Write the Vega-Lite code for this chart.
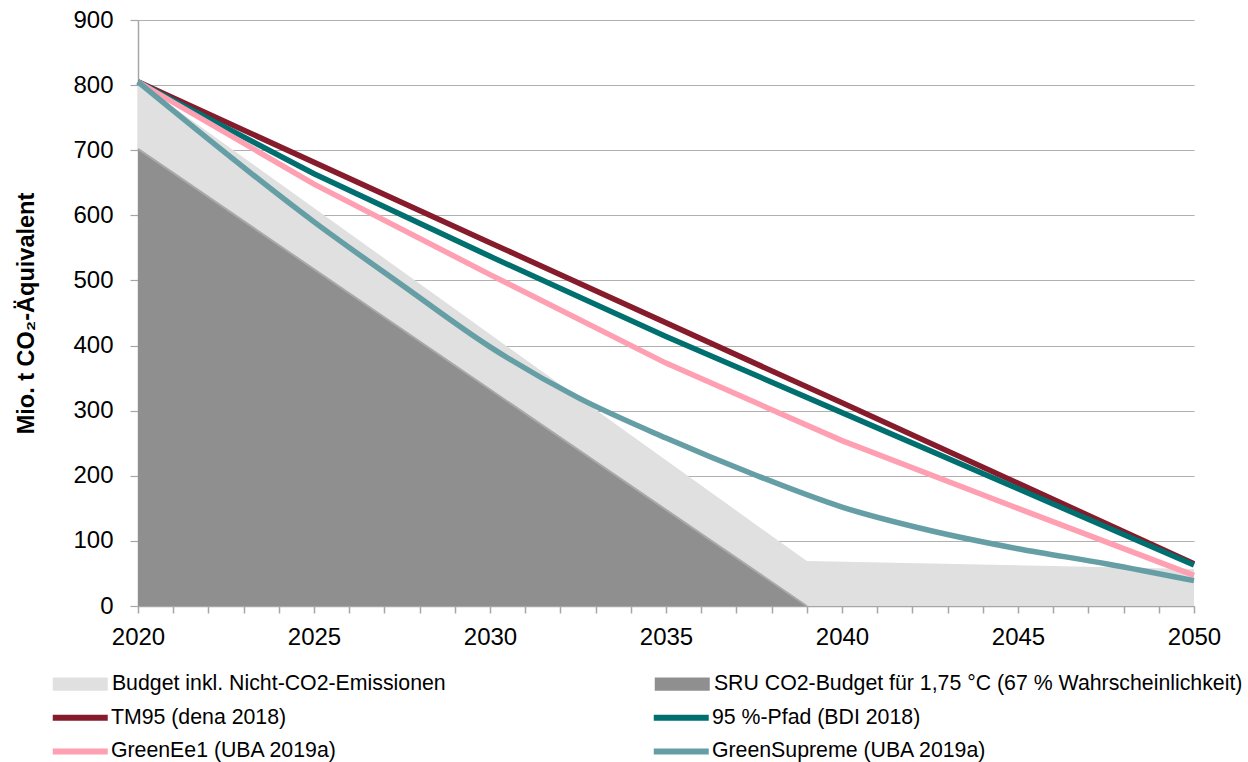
{
  "$schema": "https://vega.github.io/schema/vega-lite/v6.json",
  "width": 1056,
  "height": 586,
  "autosize": {"type": "none"},
  "padding": {"left": 138, "top": 20, "right": 54, "bottom": 156},
  "background": "white",
  "config": {
    "font": "Liberation Sans",
    "view": {"stroke": null}
  },
  "data": {
    "values": [
      {"series": "Budget inkl. Nicht-CO2-Emissionen", "year": 2020, "value": 805},
      {"series": "Budget inkl. Nicht-CO2-Emissionen", "year": 2039, "value": 69},
      {"series": "Budget inkl. Nicht-CO2-Emissionen", "year": 2050, "value": 57},
      {"series": "SRU CO2-Budget für 1,75 °C (67 % Wahrscheinlichkeit)", "year": 2020, "value": 702},
      {"series": "SRU CO2-Budget für 1,75 °C (67 % Wahrscheinlichkeit)", "year": 2039, "value": 0},
      {"series": "TM95 (dena 2018)", "year": 2020, "value": 805},
      {"series": "TM95 (dena 2018)", "year": 2030, "value": 558},
      {"series": "TM95 (dena 2018)", "year": 2040, "value": 312},
      {"series": "TM95 (dena 2018)", "year": 2050, "value": 65},
      {"series": "95 %-Pfad (BDI 2018)", "year": 2020, "value": 805},
      {"series": "95 %-Pfad (BDI 2018)", "year": 2025, "value": 664},
      {"series": "95 %-Pfad (BDI 2018)", "year": 2030, "value": 537},
      {"series": "95 %-Pfad (BDI 2018)", "year": 2035, "value": 414},
      {"series": "95 %-Pfad (BDI 2018)", "year": 2040, "value": 297},
      {"series": "95 %-Pfad (BDI 2018)", "year": 2045, "value": 180},
      {"series": "95 %-Pfad (BDI 2018)", "year": 2050, "value": 63},
      {"series": "GreenEe1 (UBA 2019a)", "year": 2020, "value": 805},
      {"series": "GreenEe1 (UBA 2019a)", "year": 2025, "value": 648},
      {"series": "GreenEe1 (UBA 2019a)", "year": 2030, "value": 509},
      {"series": "GreenEe1 (UBA 2019a)", "year": 2035, "value": 373},
      {"series": "GreenEe1 (UBA 2019a)", "year": 2040, "value": 254},
      {"series": "GreenEe1 (UBA 2019a)", "year": 2045, "value": 150},
      {"series": "GreenEe1 (UBA 2019a)", "year": 2050, "value": 47},
      {"series": "GreenSupreme (UBA 2019a)", "year": 2020, "value": 805},
      {"series": "GreenSupreme (UBA 2019a)", "year": 2025, "value": 590},
      {"series": "GreenSupreme (UBA 2019a)", "year": 2027.5, "value": 493},
      {"series": "GreenSupreme (UBA 2019a)", "year": 2030, "value": 398},
      {"series": "GreenSupreme (UBA 2019a)", "year": 2032.5, "value": 320},
      {"series": "GreenSupreme (UBA 2019a)", "year": 2035, "value": 258},
      {"series": "GreenSupreme (UBA 2019a)", "year": 2037.5, "value": 202},
      {"series": "GreenSupreme (UBA 2019a)", "year": 2040, "value": 152},
      {"series": "GreenSupreme (UBA 2019a)", "year": 2042.5, "value": 116},
      {"series": "GreenSupreme (UBA 2019a)", "year": 2045, "value": 88},
      {"series": "GreenSupreme (UBA 2019a)", "year": 2047.5, "value": 65},
      {"series": "GreenSupreme (UBA 2019a)", "year": 2050, "value": 39}
    ]
  },
  "encoding": {
    "x": {
      "field": "year",
      "type": "quantitative",
      "scale": {"domain": [2020, 2050], "nice": false, "zero": false},
      "axis": {
        "values": [2020,2021,2022,2023,2024,2025,2026,2027,2028,2029,2030,2031,2032,2033,2034,2035,2036,2037,2038,2039,2040,2041,2042,2043,2044,2045,2046,2047,2048,2049,2050],
        "format": "d",
        "labelExpr": "datum.value % 5 === 0 ? datum.label : ''",
        "grid": false,
        "domainColor": "#A6A6A6",
        "domainWidth": 1.5,
        "tickColor": "#A6A6A6",
        "tickWidth": 1.5,
        "tickSize": 7,
        "labelFontSize": 24,
        "labelColor": "black",
        "labelPadding": 12,
        "labelFlush": false,
        "labelOverlap": false,
        "title": null
      }
    },
    "y": {
      "field": "value",
      "type": "quantitative",
      "scale": {"domain": [0, 900], "nice": false},
      "axis": {
        "values": [0,100,200,300,400,500,600,700,800,900],
        "grid": true,
        "gridColor": "#B0B0B0",
        "gridWidth": 1.2,
        "domainColor": "#A6A6A6",
        "domainWidth": 1.5,
        "tickColor": "#A6A6A6",
        "tickWidth": 1.2,
        "tickSize": 8,
        "labelFontSize": 24,
        "labelColor": "black",
        "labelPadding": 17,
        "title": "Mio. t CO₂-Äquivalent",
        "titleFontSize": 23.5,
        "titleFontWeight": "bold",
        "titleColor": "black",
        "titlePadding": 34
      }
    }
  },
  "layer": [
    {
      "transform": [{"filter": "datum.series === 'Budget inkl. Nicht-CO2-Emissionen'"}],
      "mark": {"type": "area", "opacity": 1},
      "encoding": {
        "fill": {
          "field": "series",
          "type": "nominal",
          "scale": {
            "domain": ["Budget inkl. Nicht-CO2-Emissionen", "SRU CO2-Budget für 1,75 °C (67 % Wahrscheinlichkeit)"],
            "range": ["#E0E0E0", "#8F8F8F"]
          },
          "legend": {
            "orient": "none",
            "legendX": -94,
            "legendY": 653.5,
            "columns": 2,
            "title": null,
            "labelFontSize": 21.3,
            "labelColor": "black",
            "labelLimit": 800,
            "symbolSize": 189,
            "symbolType": "M-4,-0.97H4V0.97H-4Z",
            "symbolStrokeWidth": 0,
            "symbolOpacity": 1,
            "symbolOffset": 25.6,
            "labelOffset": 21,
            "rowPadding": 12,
            "columnPadding": 200,
            "gridAlign": "each"
          }
        }
      }
    },
    {
      "transform": [{"filter": "datum.series === 'SRU CO2-Budget für 1,75 °C (67 % Wahrscheinlichkeit)'"}],
      "mark": {"type": "area", "opacity": 1},
      "encoding": {"fill": {"field": "series", "type": "nominal"}}
    },
    {
      "transform": [{"filter": "datum.series === 'SRU CO2-Budget für 1,75 °C (67 % Wahrscheinlichkeit)'"}],
      "mark": {"type": "line", "color": "#A9A9A9", "strokeWidth": 2},
      "encoding": {}
    },
    {
      "transform": [{"filter": "datum.series === 'TM95 (dena 2018)'"}],
      "mark": {"type": "line", "strokeWidth": 5.5},
      "encoding": {
        "stroke": {
          "field": "series",
          "type": "nominal",
          "scale": {
            "domain": ["TM95 (dena 2018)", "GreenEe1 (UBA 2019a)", "95 %-Pfad (BDI 2018)", "GreenSupreme (UBA 2019a)"],
            "range": ["#851B2B", "#FF9FB2", "#006F6F", "#659FA5"]
          },
          "legend": {
            "orient": "none",
            "legendX": -94,
            "legendY": 686.8,
            "columns": 2,
            "title": null,
            "labelFontSize": 21.3,
            "labelColor": "black",
            "labelLimit": 800,
            "symbolSize": 189,
            "symbolType": "M-4,0H4",
            "symbolStrokeWidth": 6,
            "symbolOpacity": 1,
            "symbolOffset": 25.6,
            "labelOffset": 20,
            "rowPadding": 9,
            "columnPadding": 303,
            "gridAlign": "each"
          }
        }
      }
    },
    {
      "transform": [{"filter": "datum.series === '95 %-Pfad (BDI 2018)'"}],
      "mark": {"type": "line", "strokeWidth": 5.5},
      "encoding": {"stroke": {"field": "series", "type": "nominal"}}
    },
    {
      "transform": [{"filter": "datum.series === 'GreenEe1 (UBA 2019a)'"}],
      "mark": {"type": "line", "strokeWidth": 5.5},
      "encoding": {"stroke": {"field": "series", "type": "nominal"}}
    },
    {
      "transform": [{"filter": "datum.series === 'GreenSupreme (UBA 2019a)'"}],
      "mark": {"type": "line", "strokeWidth": 5.5, "interpolate": "monotone"},
      "encoding": {"stroke": {"field": "series", "type": "nominal"}}
    }
  ]
}
